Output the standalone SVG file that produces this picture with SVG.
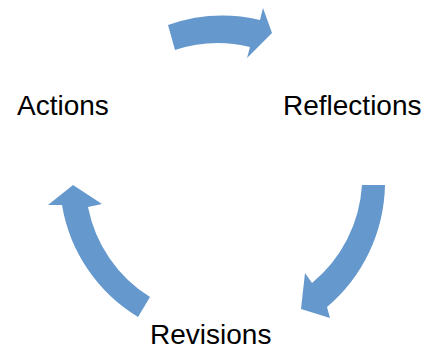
<svg xmlns="http://www.w3.org/2000/svg" width="438" height="349" viewBox="0 0 438 349">
<style>
.arrow{fill:#6598CD;stroke:none}
.label{font-family:"Liberation Sans",Arial,sans-serif;font-size:28px;fill:#000}
</style>
<rect width="438" height="349" fill="#fff"/>
<g id="connectors">
<path class="arrow" d="M168,25 A164,164 0 0 1 260,20 L263,8 L272,33 L247,58 L250,47 A137,137 0 0 0 175,50 Z"/>
<path class="arrow" d="M385,185 A164,164 0 0 1 327,307 L330,318 L301,309 L305,273 L312,283 A138,138 0 0 0 362,185 Z"/>
<path class="arrow" d="M150,297 A137,137 0 0 1 88,207 L102,204 L73,185 L48,205 L62,205 A162,162 0 0 0 138,317 Z"/>
</g>
<g id="actions"><text class="label" x="17" y="115">Actions</text></g>
<g id="reflections"><text class="label" x="283" y="115">Reflections</text></g>
<g id="revisions"><text class="label" x="150" y="344">Revisions</text></g>
</svg>
